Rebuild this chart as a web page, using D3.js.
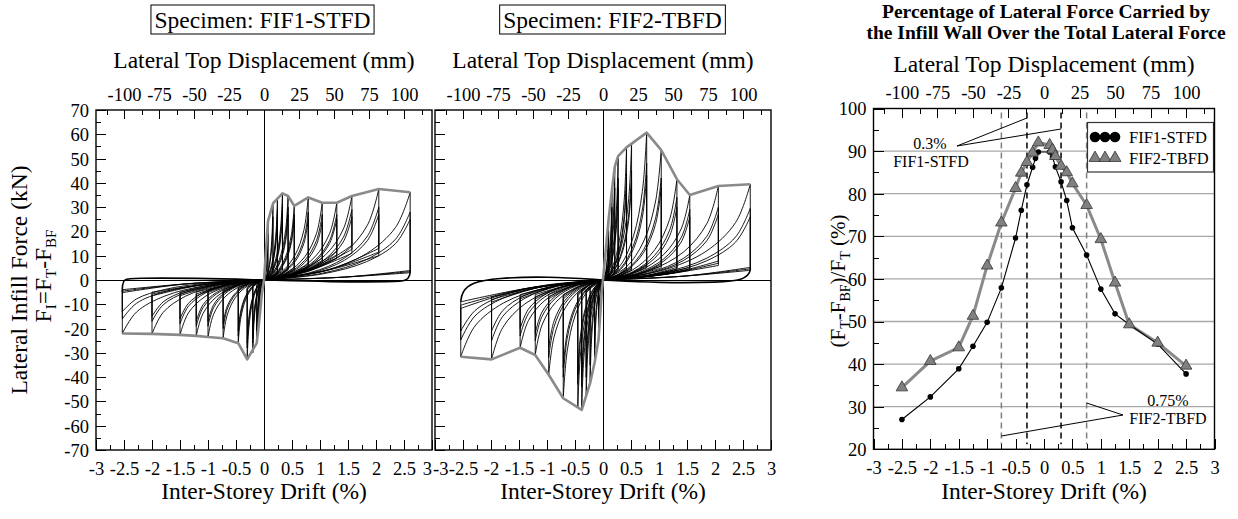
<!DOCTYPE html>
<html><head><meta charset="utf-8">
<script src="https://cdn.jsdelivr.net/npm/d3@7"></script>
<style>
body{margin:0;background:#fff;}
svg{display:block;}
</style></head><body>
<svg id="c" width="1238" height="519"></svg>
<script>
// ---------------- DATA ----------------
const driftTicks = [-3,-2.5,-2,-1.5,-1,-0.5,0,0.5,1,1.5,2,2.5,3];
const dispTicks = [-100,-75,-50,-25,0,25,50,75,100];
const forceTicks = [-70,-60,-50,-40,-30,-20,-10,0,10,20,30,40,50,60,70];
const pctTicks = [20,30,40,50,60,70,80,90,100];

// FIF1-STFD hysteresis (drift %, force kN)
const fif1EnvPos = [[0,0],[0.03,10],[0.07,24],[0.16,31.5],[0.24,33.5],[0.33,35.7],[0.43,34.6],[0.54,30.5],[0.79,34],[1.04,31.8],[1.3,31.8],[1.57,34.6],[2.05,37.5],[2.61,36.1]];
const fif1EnvNeg = [[0,0],[-0.04,-6],[-0.09,-18],[-0.13,-26],[-0.3,-32.7],[-0.46,-26],[-0.73,-24],[-1.0,-23.5],[-1.21,-23],[-1.5,-22.6],[-2.0,-22.2],[-2.53,-22]];
const fif1PosAmp = [0.07,0.16,0.24,0.33,0.43,0.54,0.79,1.04,1.3,1.57,2.05,2.61];
const fif1PosPeak = [[24,19],[31.5,26],[33.5,29,27],[35.7,31,28],[34.6,30,27],[30.5,27,25],[34,28,25],[31.8,27,24],[31.8,27,25],[34.6,29,26],[37.5,30,27],[36.1,28,25]];
const fif1PosBase = [2,3,3,4,4,4,5,7,9,11,10,3];
const fif1NegAmp = [-0.09,-0.13,-0.2,-0.3,-0.46,-0.73,-1.0,-1.21,-1.5,-2.0,-2.53];
const fif1NegPeak = [[-18,-15],[-26,-21],[-30,-26,-24],[-32.7,-28,-26],[-26,-23,-21],[-24,-20,-18],[-23.5,-19,-17],[-23,-19,-17],[-22.6,-18,-16],[-22.2,-17,-15],[-22,-16,-13]];
const fif1NegBase = [-1,-2,-2,-3,-3,-4,-4,-5,-5,-5,-4];
const fif1OuterPos = [[0,0],[1.2,-0.8],[2.35,-0.8],[2.55,-0.3],[2.61,2],[2.61,4]];
const fif1OuterNeg = [[0,0],[-1.2,0.8],[-2.35,0.8],[-2.5,0.4],[-2.53,-2],[-2.53,-5]];

// FIF2-TBFD hysteresis
const fif2EnvPos = [[0,0],[0.04,10],[0.1,25],[0.16,37],[0.21,46.7],[0.27,51],[0.42,54.6],[0.78,60.7],[1.04,53.5],[1.32,41.5],[1.55,35],[2.06,38.7],[2.63,39.4]];
const fif2EnvNeg = [[0,0],[-0.02,-4],[-0.08,-24.7],[-0.15,-34],[-0.23,-42.5],[-0.38,-53.5],[-0.71,-48.7],[-0.97,-39],[-1.21,-30.9],[-1.48,-27.9],[-1.99,-32.7],[-2.54,-31.6]];
const fif2PosAmp = [0.1,0.16,0.21,0.27,0.42,0.51,0.78,1.04,1.32,1.55,2.06,2.63];
const fif2PosPeak = [[25,20],[37,30],[46.7,38],[51,42,38],[54.6,44,40],[56,45,41],[60.7,48,43],[53.5,42,38],[41.5,34,30],[35,29,26],[38.7,30,27],[39.4,29.5,26]];
const fif2PosBase = [2,3,3,4,4,4,5,5,4,4,6,4];
const fif2NegAmp = [-0.08,-0.15,-0.23,-0.3,-0.38,-0.45,-0.71,-0.97,-1.21,-1.48,-1.99,-2.54];
const fif2NegPeak = [[-24.7,-20],[-34,-28],[-42.5,-35],[-48,-40,-36],[-53.5,-44,-40],[-52.5,-43,-39],[-48.7,-40,-36],[-39,-32,-28],[-30.9,-25,-22],[-27.9,-23,-20],[-32.7,-25,-21],[-31.6,-24.7,-21]];
const fif2NegBase = [-2,-3,-3,-4,-4,-5,-6,-6,-6,-6,-7,-9];
const fif2OuterPos = [[0,0],[1.0,-1.2],[2.1,-1.0],[2.5,0],[2.63,3],[2.63,5]];
const fif2OuterNeg = [[0,0],[-1.0,1.5],[-1.9,0.8],[-2.35,-1],[-2.52,-5],[-2.54,-9]];

// Percentage of lateral force carried by infill
const pctFif1Drift = [-2.5,-2.0,-1.5,-1.25,-1.0,-0.75,-0.5,-0.4,-0.3,-0.2,-0.15,-0.1,0.1,0.15,0.2,0.3,0.4,0.5,0.75,1.0,1.25,1.5,2.0,2.5];
const pctFif1 = [27,32.3,38.9,44.2,49.8,57.9,69.6,76.1,82.1,86.2,88.3,89.8,89.8,88.6,86.3,82.8,78.4,72,65.6,57.6,51.8,49.3,44.7,37.7];
const pctFif2Drift = [-2.5,-2.0,-1.5,-1.25,-1.0,-0.75,-0.5,-0.4,-0.3,-0.2,-0.1,0.1,0.15,0.2,0.3,0.4,0.5,0.75,1.0,1.25,1.5,2.0,2.5];
const pctFif2 = [34.5,40.7,43.9,51.3,63.1,73.2,81.3,84.9,87.4,89.6,92.0,91.4,90.3,88.8,86.5,85.0,82.4,77.3,69.3,59.1,49.3,45.0,39.6];
const limitFif1 = 0.3, limitFif2 = 0.75;

// ---------------- DRAWING ----------------
const FONT = '"Liberation Serif","Times New Roman",serif';
const svg = d3.select('#c').attr('font-family', FONT);

const P1 = {x0:96, x1:432, y0:110, y1:450, cx:264};
const P2 = {x0:435, x1:771, y0:110, y1:450, cx:603};
const P3 = {x0:873.5, x1:1214.5, y0:108.5, y1:449.3, cx:1044};

function styleAxis(g, fs){
  g.select('.domain').remove();
  g.attr('font-family', FONT).attr('font-size', fs);
  g.selectAll('line').attr('stroke','#000').attr('stroke-width',1).attr('shape-rendering','crispEdges');
  g.selectAll('text').attr('fill','#000');
}

// edgeMode: 'left' -> last label end-anchored, 'right' -> first label start-anchored
function frameAxes(P, sy, yMajor, yMinor, yLabels, yLabelX, edgeMode){
  const sx = d3.scaleLinear().domain([-3,3]).range([P.x0,P.x1]);
  const sm = d3.scaleLinear().domain([-120,120]).range([P.x0,P.x1]);
  const g = svg.append('g');
  // bottom
  let a = g.append('g').attr('transform',`translate(0,${P.y1})`)
    .call(d3.axisBottom(sx).tickValues(driftTicks).tickSize(-10).tickFormat(d=>String(d)));
  styleAxis(a, 18.5);
  a.selectAll('text').attr('y', 25).attr('dy', null);
  if (edgeMode === 'left') a.selectAll('text').filter(d=>d===3).attr('text-anchor','end').attr('dx',-0.5);
  if (edgeMode === 'right') a.selectAll('text').filter(d=>d===-3).attr('text-anchor','start').attr('dx',-2.5);
  a = g.append('g').attr('transform',`translate(0,${P.y1})`)
    .call(d3.axisBottom(sx).tickValues(d3.range(-2.75,3,0.5)).tickSize(-5).tickFormat(''));
  styleAxis(a, 10);
  // top
  a = g.append('g').attr('transform',`translate(0,${P.y0})`)
    .call(d3.axisTop(sm).tickValues(dispTicks).tickSize(-9).tickFormat(d=>String(d)));
  styleAxis(a, 18.5);
  a.selectAll('text').attr('y', -9.5).attr('dy', null);
  a = g.append('g').attr('transform',`translate(0,${P.y0})`)
    .call(d3.axisTop(sm).tickValues(d3.range(-112.5,120,25)).tickSize(-5).tickFormat(''));
  styleAxis(a, 10);
  // left
  a = g.append('g').attr('transform',`translate(${P.x0},0)`)
    .call(d3.axisLeft(sy).tickValues(yMajor).tickSize(-10).tickFormat(yLabels ? (d=>String(d)) : ''));
  styleAxis(a, 18.5);
  if (yLabels) a.selectAll('text').attr('x', yLabelX - P.x0).attr('dy','0.35em');
  else a.selectAll('text').remove();
  a = g.append('g').attr('transform',`translate(${P.x0},0)`)
    .call(d3.axisLeft(sy).tickValues(yMinor).tickSize(-5).tickFormat(''));
  styleAxis(a, 10);
  a.selectAll('text').remove();
  g.selectAll('text').filter(function(){ return this.textContent === ''; }).remove();
  // frame
  g.append('rect').attr('x',P.x0).attr('y',P.y0).attr('width',P.x1-P.x0).attr('height',P.y1-P.y0)
    .attr('fill','none').attr('stroke','#000').attr('stroke-width',1.4);
  return {sx, sm};
}

function hystPanel(P, envPos, envNeg, pAmp, pPeak, pBase, nAmp, nPeak, nBase, outerPos, outerNeg, labelsY, edgeMode){
  const sy = d3.scaleLinear().domain([-70,70]).range([P.y1,P.y0]);
  const sx = d3.scaleLinear().domain([-3,3]).range([P.x0,P.x1]);
  const g = svg.append('g');
  // zero lines
  g.append('line').attr('x1',P.x0).attr('x2',P.x1).attr('y1',sy(0)).attr('y2',sy(0)).attr('stroke','#000').attr('stroke-width',1).attr('shape-rendering','crispEdges');
  g.append('line').attr('x1',sx(0)).attr('x2',sx(0)).attr('y1',P.y0).attr('y2',P.y1).attr('stroke','#000').attr('stroke-width',1).attr('shape-rendering','crispEdges');
  const curve = d3.line().x(d=>sx(d[0])).y(d=>sy(d[1])).curve(d3.curveCatmullRom.alpha(0.5));
  const outer = d3.line().x(d=>sx(d[0])).y(d=>sy(d[1])).curve(d3.curveBasis);
  const loops = g.append('g').attr('fill','none').attr('stroke','#000').attr('stroke-width',0.9);
  function half(amps, peaks, bases){
    amps.forEach((a,i)=>{
      const B = bases[i];
      peaks[i].forEach((Pk,j)=>{
        const up = [[0,0],[0.4*a,0.1*Pk],[0.7*a,0.3*Pk],[0.9*a,0.6*Pk],[a,Pk]];
        const back = [[a,B*(1+0.15*j)],[0.55*a,0.4*B],[0,0]];
        loops.append('path').attr('d', curve(up) + 'L' + sx(a) + ',' + sy(B*(1+0.15*j)) + curve(back).replace(/^M/,'L'));
      });
    });
  }
  half(pAmp, pPeak, pBase);
  half(nAmp, nPeak, nBase);
  loops.append('path').attr('d', outer(outerPos)).attr('stroke-width',1.6);
  loops.append('path').attr('d', outer(outerNeg)).attr('stroke-width',1.6);
  const env = d3.line().x(d=>sx(d[0])).y(d=>sy(d[1]));
  g.append('path').attr('d', env(envPos)).attr('fill','none').attr('stroke','#8a8a8a').attr('stroke-width',2.6).attr('stroke-linejoin','round');
  g.append('path').attr('d', env(envNeg)).attr('fill','none').attr('stroke','#8a8a8a').attr('stroke-width',2.6).attr('stroke-linejoin','round');
  frameAxes(P, sy, forceTicks, d3.range(-65,70,10), labelsY, 89, edgeMode);
}

hystPanel(P1, fif1EnvPos, fif1EnvNeg, fif1PosAmp, fif1PosPeak, fif1PosBase, fif1NegAmp, fif1NegPeak, fif1NegBase, fif1OuterPos, fif1OuterNeg, true, 'left');
hystPanel(P2, fif2EnvPos, fif2EnvNeg, fif2PosAmp, fif2PosPeak, fif2PosBase, fif2NegAmp, fif2NegPeak, fif2NegBase, fif2OuterPos, fif2OuterNeg, false, 'right');

// ---- right panel ----
{
  const P = P3;
  const sx = d3.scaleLinear().domain([-3,3]).range([P.x0,P.x1]);
  const sy = d3.scaleLinear().domain([20,100]).range([P.y1,P.y0]);
  const g = svg.append('g');
  g.selectAll('line.grid').data(pctTicks.filter(v=>v>20&&v<100)).enter().append('line')
    .attr('x1',P.x0).attr('x2',P.x1).attr('y1',d=>sy(d)).attr('y2',d=>sy(d))
    .attr('stroke','#a8a8a8').attr('stroke-width',1.3);
  // dashed limit lines
  const dl = [[-limitFif2,'#808080'],[limitFif2,'#808080'],[-limitFif1,'#000'],[limitFif1,'#000']];
  dl.forEach(([d,c])=>{
    g.append('line').attr('x1',sx(d)).attr('x2',sx(d)).attr('y1',P.y0+4).attr('y2',P.y1-5)
      .attr('stroke',c).attr('stroke-width',1.5).attr('stroke-dasharray','6,4');
  });
  // annotation lines
  const ann = g.append('g').attr('stroke','#000').attr('stroke-width',1).attr('fill','none');
  ann.append('line').attr('x1',957).attr('y1',146).attr('x2',sx(-limitFif1)).attr('y2',118);
  ann.append('line').attr('x1',957).attr('y1',146).attr('x2',sx(limitFif1)).attr('y2',129);
  ann.append('line').attr('x1',1123).attr('y1',415).attr('x2',sx(limitFif2)).attr('y2',403);
  ann.append('line').attr('x1',1123).attr('y1',415).attr('x2',sx(-limitFif2)).attr('y2',436);
  const at = g.append('g').attr('font-size',16).attr('text-anchor','middle').attr('fill','#000');
  at.append('text').attr('x',930).attr('y',148.5).text('0.3%');
  at.append('text').attr('x',931).attr('y',167).text('FIF1-STFD');
  at.append('text').attr('x',1168).attr('y',405.5).text('0.75%');
  at.append('text').attr('x',1168).attr('y',424).text('FIF2-TBFD');

  // series
  const ln = d3.line().x(d=>sx(d[0])).y(d=>sy(d[1]));
  const s2 = pctFif2Drift.map((d,i)=>[d,pctFif2[i]]);
  const s1 = pctFif1Drift.map((d,i)=>[d,pctFif1[i]]);
  g.append('path').attr('d',ln(s2)).attr('fill','none').attr('stroke','#8a8a8a').attr('stroke-width',3);
  g.append('path').attr('d',ln(s1)).attr('fill','none').attr('stroke','#000').attr('stroke-width',1.1);
  g.selectAll('circle.s1').data(s1).enter().append('circle')
    .attr('cx',d=>sx(d[0])).attr('cy',d=>sy(d[1])).attr('r',2.8).attr('fill','#000');
  const tri = d3.symbol(d3.symbolTriangle).size(58);
  g.selectAll('path.s2').data(s2).enter().append('path').attr('d',tri)
    .attr('transform',d=>`translate(${sx(d[0])},${sy(d[1])})`)
    .attr('fill','#808080').attr('stroke','#333').attr('stroke-width',0.8);

  // legend
  const lg = g.append('g');
  lg.append('rect').attr('x',1087.5).attr('y',122.5).attr('width',126).attr('height',49.5)
    .attr('fill','#fff').attr('stroke','#333').attr('stroke-width',1.2);
  [1095,1105,1115].forEach(x=>{
    lg.append('circle').attr('cx',x).attr('cy',137).attr('r',5.3).attr('fill','#000');
    lg.append('path').attr('d',d3.symbol(d3.symbolTriangle).size(62)).attr('transform',`translate(${x},158)`)
      .attr('fill','#808080').attr('stroke','#333').attr('stroke-width',0.8);
  });
  lg.append('text').attr('x',1129).attr('y',142.5).attr('font-size',16.5).text('FIF1-STFD');
  lg.append('text').attr('x',1129).attr('y',163.5).attr('font-size',16.5).text('FIF2-TBFD');

  frameAxes(P, sy, pctTicks, d3.range(25,100,10), true, 866.5, 'none');
}

// ---- titles ----
function specimen(cx, label){
  const r = svg.append('rect');
  const t = svg.append('text').attr('x',cx).attr('y',28).attr('text-anchor','middle').attr('font-size',23.5).text(label);
  const bb = t.node().getBBox();
  r.attr('x',bb.x-3.5).attr('y',5).attr('width',bb.width+7).attr('height',29)
    .attr('fill','#fff').attr('stroke','#000').attr('stroke-width',1);
}
specimen(262.5, 'Specimen: FIF1-STFD');
specimen(612.5, 'Specimen: FIF2-TBFD');

[[P1.cx,68],[P2.cx,68],[P3.cx,72]].forEach(([x,y])=>{
  svg.append('text').attr('x',x).attr('y',y).attr('text-anchor','middle').attr('font-size',23.5).text('Lateral Top Displacement (mm)');
});
[P1.cx,P2.cx,P3.cx].forEach(x=>{
  svg.append('text').attr('x',x).attr('y',499).attr('text-anchor','middle').attr('font-size',23.5).text('Inter-Storey Drift (%)');
});
svg.append('text').attr('x',1046).attr('y',17.5).attr('text-anchor','middle').attr('font-size',19.5).attr('font-weight','bold')
  .text('Percentage of Lateral Force Carried by');
svg.append('text').attr('x',1046).attr('y',39).attr('text-anchor','middle').attr('font-size',19.5).attr('font-weight','bold')
  .text('the Infill Wall Over the Total Lateral Force');

// y titles
svg.append('text').attr('transform','translate(27,280) rotate(-90)').attr('text-anchor','middle').attr('font-size',23.5)
  .text('Lateral Infill Force (kN)');
function subText(t, parts, sfs, shift){
  let pending = 0;
  parts.forEach(([s,sub])=>{
    const sp = t.append('tspan').text(s);
    if(sub){ sp.attr('font-size',sfs).attr('dy',shift - pending); pending = shift; }
    else { if(pending) sp.attr('dy',-pending); pending = 0; }
  });
}
{
  const t = svg.append('text').attr('transform','translate(51,276) rotate(-90)').attr('text-anchor','middle').attr('font-size',23.5);
  subText(t, [['F'],['I',1],['=F'],['T',1],['-F'],['BF',1]], 15, 5);
}
{
  const t = svg.append('text').attr('transform','translate(845,281) rotate(-90)').attr('text-anchor','middle').attr('font-size',21);
  subText(t, [['(F'],['T',1],['-F'],['BF',1],[')/F'],['T',1],[' (%)']], 14, 4.5);
}
</script></body></html>
